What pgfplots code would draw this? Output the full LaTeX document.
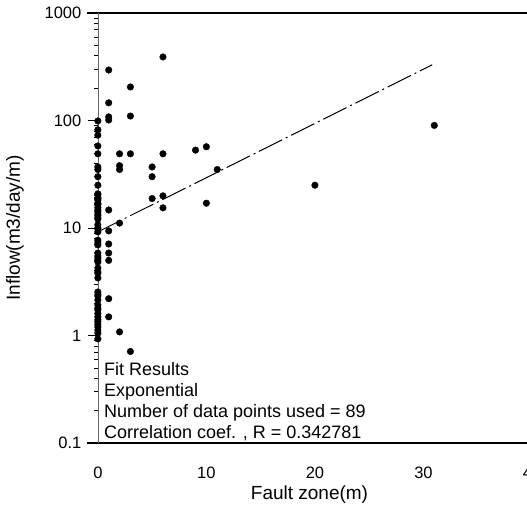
\documentclass[border=0pt]{standalone}
\usepackage{pgfplots}
\pgfplotsset{compat=1.18}
\usepackage{fontspec}
\setmainfont{Liberation Sans}
\pgfplotstableread{
x y
0 99
0 82
0 73
0 58
0 49
0 37
0 35
0 30
0 25
0 20.8
0 20.3
0 19
0 18.8
0 18.2
0 17
0 16.8
0 16.4
0 15.5
0 14.7
0 14.2
0 13.5
0 13
0 12.4
0 12.1
0 10.7
0 10
0 9.8
0 9.2
0 7.7
0 7.3
0 6.95
0 5.85
0 5.5
0 5.26
0 4.83
0 5.0
0 4.25
0 3.9
0 3.81
0 3.43
0 2.54
0 2.4
0 2.33
0 2.14
0 1.92
0 1.8
0 1.73
0 1.6
0 1.49
0 1.4
0 1.34
0 1.27
0 1.2
0 1.12
0 1.05
0 0.93
1 295
1 146
1 108
1 101
1 14.7
1 9.4
1 7.1
1 5.85
1 5.0
1 2.2
1 1.49
2 49
2 38
2 35
2 11.1
2 1.08
3 205
3 110
3 49
3 0.71
5 37
5 30
5 18.8
6 390
6 49
6 19.9
6 15.4
9 53
10 57
10 17
11 35
20 25
31 90
}\datatable
\pgfplotstableread{
x y
0 9.2
30.8 330
}\fittable
\begin{document}
\begin{tikzpicture}[x=1pt,y=1pt]
\begin{axis}[
  at={(87pt,67pt)}, anchor=south west,
  scale only axis, width=445pt, height=430pt,
  xmin=-1, xmax=40, ymin=0.1, ymax=1000,
  ymode=log,
  axis x line*=box, axis y line*=middle,
  hide obscured x ticks=false, hide obscured y ticks=false,
  x axis line style={line width=1.2pt, -},
  y axis line style={line width=0.5pt, -, black!60},
  xtick={0,10,20,30,40},
  xtick style={draw=none},
  ytick={0.1,1,10,100,1000},
  yticklabels={0.1,1,10,100,1000},
  tick align=outside,
  major tick length=10pt, minor tick length=4pt,
  ytick style={line width=0.9pt, black},
  minor y tick style={line width=0.6pt, black},
  /pgf/number format/assume math mode=true,
  tick label style={font=\fontsize{16.5}{19}\selectfont},
  xticklabel style={yshift=-10pt},
  yticklabel style={xshift=-3pt},
  clip=false,
]
\addplot[only marks, mark=*, mark size=3.3pt, black] table {\datatable};
\addplot[black, line width=1pt, dash pattern=on 26pt off 4pt on 2pt off 4pt] table {\fittable};
\node[anchor=base west, inner sep=0pt, font=\fontsize{18}{21}\selectfont] at (rel axis cs:0.038,0.158) {Fit Results};
\node[anchor=base west, inner sep=0pt, font=\fontsize{18}{21}\selectfont] at (rel axis cs:0.038,0.109) {Exponential};
\node[anchor=base west, inner sep=0pt, font=\fontsize{18}{21}\selectfont] at (rel axis cs:0.038,0.060) {Number of data points used = 89};
\node[anchor=base west, inner sep=0pt, font=\fontsize{18}{21}\selectfont] at (rel axis cs:0.038,0.0116) {Correlation coef. , R = 0.342781};
\node[anchor=center, font=\fontsize{19}{22}\selectfont] at ([yshift=-52pt]rel axis cs:0.5,0) {Fault zone(m)};
\node[anchor=center, rotate=90, font=\fontsize{19}{22}\selectfont] at ([xshift=-72pt]rel axis cs:0,0.5) {Inflow(m3/day/m)};
\end{axis}
\pgfresetboundingbox
\path[use as bounding box] (0,0) rectangle (527pt,510pt);
\end{tikzpicture}
\end{document}
